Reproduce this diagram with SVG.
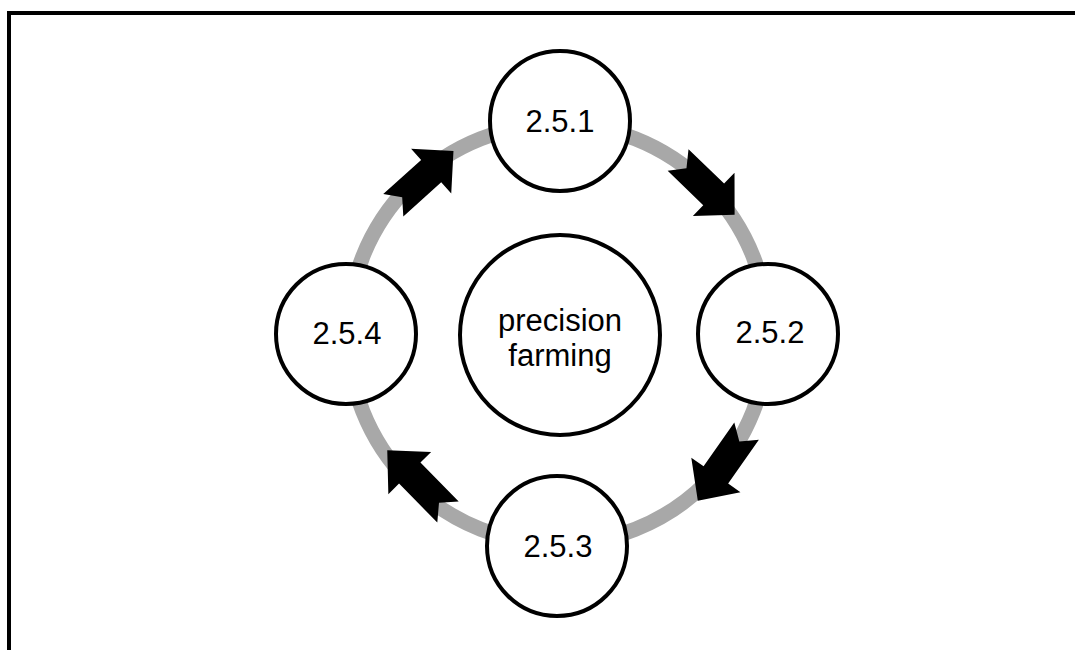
<svg xmlns="http://www.w3.org/2000/svg" xmlns:xlink="http://www.w3.org/1999/xlink" width="1075" height="650" viewBox="0 0 1075 650">
<style>
.node{fill:#fff;stroke:#000;stroke-width:4}
.lbl{font-family:"Liberation Sans",Arial,sans-serif;font-size:31px;fill:#000;text-anchor:middle}
.ring{fill:none;stroke:#a8a8a8;stroke-width:15}
.arr{fill:#000}
</style>
<defs>
<polygon id="blockArrow" points="-40,-15 11,-15 11,-30 41,0 11,30 11,15 -40,15 -28,0"/>
</defs>
<rect x="0" y="0" width="1075" height="650" fill="#fff"/>
<path d="M9,650 V13 H1075" fill="none" stroke="#000" stroke-width="4"/>
<g id="connectors">
<circle class="ring" cx="558" cy="334" r="210"/>
<use xlink:href="#blockArrow" class="arr" transform="translate(423,178.5) rotate(-42)"/>
<use xlink:href="#blockArrow" class="arr" transform="translate(706,187) rotate(44) scale(0.97,1)"/>
<use xlink:href="#blockArrow" class="arr" transform="translate(722.5,465.5) rotate(125) scale(1.05,1)"/>
<use xlink:href="#blockArrow" class="arr" transform="translate(418,481.5) rotate(225.5) scale(1.07,1)"/>
</g>
<g id="center">
<circle class="node" cx="560" cy="335" r="100"/>
<text class="lbl" x="560" y="331">precision</text>
<text class="lbl" x="560" y="366">farming</text>
</g>
<g id="n251">
<circle class="node" cx="560" cy="121" r="70"/>
<text class="lbl" x="560" y="132">2.5.1</text>
</g>
<g id="n252">
<circle class="node" cx="768" cy="334" r="70"/>
<text class="lbl" x="770" y="343">2.5.2</text>
</g>
<g id="n253">
<circle class="node" cx="557" cy="546" r="70"/>
<text class="lbl" x="558" y="557">2.5.3</text>
</g>
<g id="n254">
<circle class="node" cx="346" cy="334" r="70"/>
<text class="lbl" x="347" y="344">2.5.4</text>
</g>
</svg>
